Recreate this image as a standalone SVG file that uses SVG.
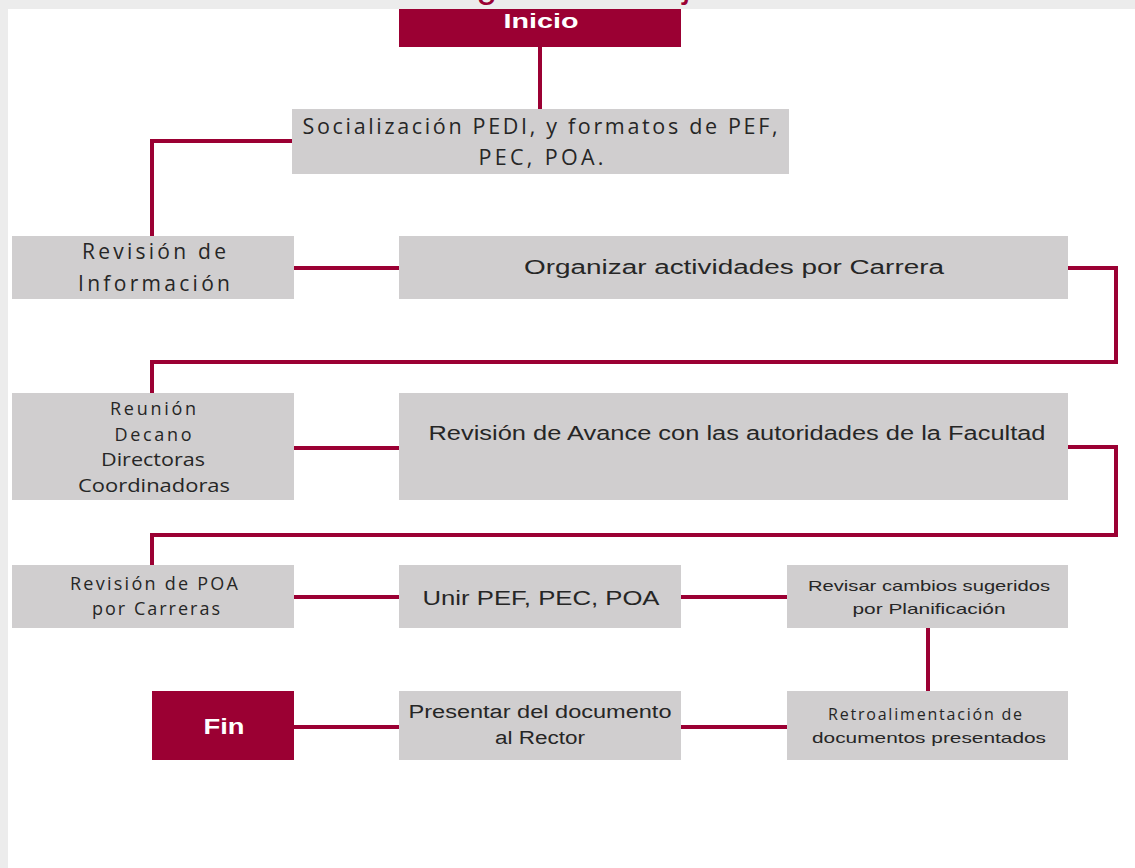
<svg xmlns="http://www.w3.org/2000/svg" width="1135" height="868" viewBox="0 0 1135 868">
<style>
.bg{fill:#ececec}
.panel{fill:#ffffff}
.box{fill:#d0cecf}
.term{fill:#9b0033}
.t{font-family:"Liberation Sans",Arial,sans-serif;fill:#262626;text-anchor:middle}
.d{font-family:"Open Sans","DejaVu Sans",sans-serif;fill:#262626;text-anchor:middle}
.tw{font-family:"Liberation Sans",Arial,sans-serif;fill:#ffffff;font-weight:bold;text-anchor:middle}
.title{font-family:"Liberation Sans",Arial,sans-serif;fill:#9b0033}
.c{fill:none;stroke:#9b0033;stroke-width:4}
</style>
<rect class="bg" x="0" y="0" width="1135" height="868"/>
<text class="title" x="421" y="-3" font-size="37">Diagrama de flujo</text>
<rect class="panel" x="8" y="9" width="1127" height="859"/>

<g id="connectors">
<path class="c" d="M540 47 V109"/>
<path class="c" d="M292 141 H152 V236"/>
<path class="c" d="M294 268 H399"/>
<path class="c" d="M1068 268 H1116 V362 H152 V393"/>
<path class="c" d="M294 448 H399"/>
<path class="c" d="M1068 447 H1116 V535 H152 V565"/>
<path class="c" d="M294 597 H399"/>
<path class="c" d="M681 597 H787"/>
<path class="c" d="M928 628 V691"/>
<path class="c" d="M681 727 H787"/>
<path class="c" d="M294 727 H399"/>
</g>

<g id="inicio">
<rect class="term" x="399" y="9" width="282" height="38"/>
<text class="tw" x="541" y="28" font-size="21" textLength="75" lengthAdjust="spacingAndGlyphs">Inicio</text>
</g>

<g id="socializacion">
<rect class="box" x="292" y="109" width="497" height="65"/>
<text class="d" x="540" y="134" font-size="21.5" textLength="475" lengthAdjust="spacing">Socialización PEDI, y formatos de PEF,</text>
<text class="d" x="541" y="165" font-size="21.5" textLength="125" lengthAdjust="spacing">PEC, POA.</text>
</g>

<g id="revision-informacion">
<rect class="box" x="12" y="236" width="282" height="63"/>
<text class="d" x="154" y="259" font-size="21" textLength="144" lengthAdjust="spacing">Revisión de</text>
<text class="d" x="154" y="291" font-size="21" textLength="152" lengthAdjust="spacing">Información</text>
</g>

<g id="organizar">
<rect class="box" x="399" y="236" width="669" height="63"/>
<text class="t" x="734" y="274" font-size="20" textLength="420" lengthAdjust="spacingAndGlyphs">Organizar actividades por Carrera</text>
</g>

<g id="reunion">
<rect class="box" x="12" y="393" width="282" height="107"/>
<text class="d" x="153" y="415" font-size="18" textLength="86" lengthAdjust="spacing">Reunión</text>
<text class="d" x="153" y="441" font-size="18" textLength="77" lengthAdjust="spacing">Decano</text>
<text class="d" x="153" y="466" font-size="18" textLength="104" lengthAdjust="spacingAndGlyphs">Directoras</text>
<text class="d" x="154" y="492" font-size="18" textLength="152" lengthAdjust="spacingAndGlyphs">Coordinadoras</text>
</g>

<g id="revision-avance">
<rect class="box" x="399" y="393" width="669" height="107"/>
<text class="t" x="737" y="440" font-size="20" textLength="617" lengthAdjust="spacingAndGlyphs">Revisión de Avance con las autoridades de la Facultad</text>
</g>

<g id="revision-poa">
<rect class="box" x="12" y="565" width="282" height="63"/>
<text class="d" x="154" y="590" font-size="18" textLength="168" lengthAdjust="spacing">Revisión de POA</text>
<text class="d" x="156" y="615" font-size="18" textLength="128" lengthAdjust="spacing">por Carreras</text>
</g>

<g id="unir">
<rect class="box" x="399" y="565" width="282" height="63"/>
<text class="t" x="541" y="605" font-size="21" textLength="237" lengthAdjust="spacingAndGlyphs">Unir PEF, PEC, POA</text>
</g>

<g id="revisar-cambios">
<rect class="box" x="787" y="565" width="281" height="63"/>
<text class="t" x="929" y="591" font-size="15" textLength="242" lengthAdjust="spacingAndGlyphs">Revisar cambios sugeridos</text>
<text class="t" x="929" y="614" font-size="15" textLength="153" lengthAdjust="spacingAndGlyphs">por Planificación</text>
</g>

<g id="retroalimentacion">
<rect class="box" x="787" y="691" width="281" height="69"/>
<text class="d" x="925" y="720" font-size="16" textLength="194" lengthAdjust="spacing">Retroalimentación de</text>
<text class="t" x="929" y="743" font-size="15" textLength="234" lengthAdjust="spacingAndGlyphs">documentos presentados</text>
</g>

<g id="presentar">
<rect class="box" x="399" y="691" width="282" height="69"/>
<text class="t" x="540" y="718" font-size="18" textLength="263" lengthAdjust="spacingAndGlyphs">Presentar del documento</text>
<text class="t" x="540" y="744" font-size="18" textLength="90" lengthAdjust="spacingAndGlyphs">al Rector</text>
</g>

<g id="fin">
<rect class="term" x="152" y="691" width="142" height="69"/>
<text class="tw" x="224" y="734" font-size="22" textLength="41" lengthAdjust="spacingAndGlyphs">Fin</text>
</g>
</svg>
